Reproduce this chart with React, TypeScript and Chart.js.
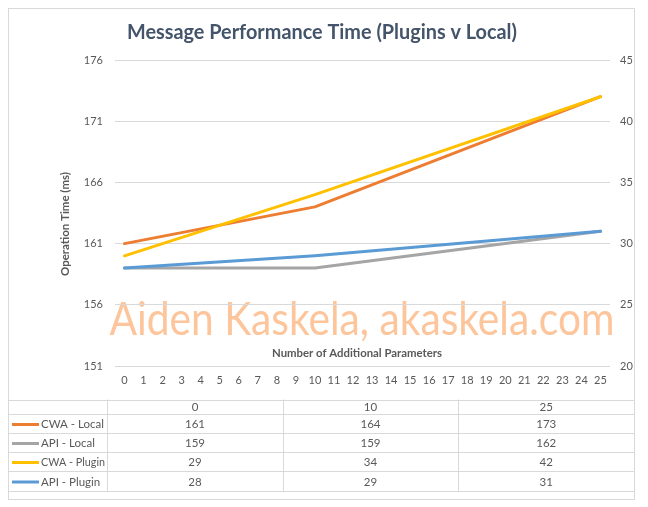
import { useEffect, useRef } from 'react';
import { Chart, registerables, Plugin } from 'chart.js';

Chart.register(...registerables);

// x categories (number of additional parameters)
const xLabels = [
  '0', '1', '2', '3', '4', '5', '6', '7', '8', '9', '10', '11', '12',
  '13', '14', '15', '16', '17', '18', '19', '20', '21', '22', '23', '24', '25',
];
// points actually measured
const measuredAt = ['0', '10', '25'];

const cwaLocal = [161, 164, 173];
const apiLocal = [159, 159, 162];
const cwaPlugin = [29, 34, 42];
const apiPlugin = [28, 29, 31];

const leftTicks = { min: 151, max: 176, step: 5 };
const rightTicks = { min: 20, max: 45, step: 5 };

const seriesNames = ['CWA - Local', 'API - Local', 'CWA - Plugin', 'API - Plugin'];
const seriesColors = ['#ED7D31', '#A5A5A5', '#FFC000', '#5B9BD5'];
const seriesValues = [cwaLocal, apiLocal, cwaPlugin, apiPlugin];
const seriesAxis = ['yLeft', 'yLeft', 'yRight', 'yRight'];

const TITLE = 'Message Performance Time (Plugins v Local)';
const X_TITLE = 'Number of Additional Parameters';
const Y_TITLE = 'Operation Time (ms)';
const WATERMARK = 'Aiden Kaskela, akaskela.com';

const FONT = 'Lato, "Open Sans", sans-serif';
const TEXT = '#595959';
const GRID = '#D9D9D9';

// draws text squeezed to a given width (the original uses narrow Calibri)
function fitText(ctx: CanvasRenderingContext2D, text: string, x: number, y: number, maxW: number) {
  const w = ctx.measureText(text).width;
  const s = w > maxW ? maxW / w : 1;
  ctx.save();
  ctx.translate(x, y);
  ctx.scale(s, 1);
  ctx.fillText(text, 0, 0);
  ctx.restore();
}

const decor: Plugin = {
  id: 'decor',
  beforeDraw(chart) {
    const { ctx, width, height } = chart;
    ctx.save();
    ctx.fillStyle = '#ffffff';
    ctx.fillRect(0, 0, width, height);
    // watermark
    ctx.font = `46px ${FONT}`;
    ctx.fillStyle = '#FDC59B';
    ctx.textAlign = 'center';
    ctx.textBaseline = 'alphabetic';
    fitText(ctx, WATERMARK, 354, 327, 505);
    ctx.restore();
  },
  afterDraw(chart) {
    const { ctx, width, height } = chart;
    ctx.save();

    // title
    ctx.fillStyle = '#44546A';
    ctx.font = `bold 20.5px ${FONT}`;
    ctx.textAlign = 'center';
    ctx.textBaseline = 'alphabetic';
    fitText(ctx, TITLE, 314, 31, 390);

    // axis titles
    ctx.fillStyle = TEXT;
    ctx.font = `bold 12px ${FONT}`;
    ctx.textBaseline = 'middle';
    fitText(ctx, X_TITLE, 349, 345, 170);
    ctx.save();
    ctx.translate(57, 216);
    ctx.rotate(-Math.PI / 2);
    fitText(ctx, Y_TITLE, 0, 0, 104);
    ctx.restore();

    // data table
    const colEdges = [99, 275, 450, width - 0.5];
    const rowEdges = [391.5, 406, 425, 444, 463, 483];
    ctx.strokeStyle = GRID;
    ctx.lineWidth = 1;
    ctx.beginPath();
    rowEdges.forEach((y) => {
      const yy = Math.round(y) + 0.5;
      ctx.moveTo(0, yy);
      ctx.lineTo(width, yy);
    });
    colEdges.slice(0, 3).forEach((x) => {
      const xx = Math.round(x) + 0.5;
      ctx.moveTo(xx, rowEdges[0]);
      ctx.lineTo(xx, rowEdges[rowEdges.length - 1]);
    });
    ctx.stroke();

    ctx.font = `11.5px ${FONT}`;
    ctx.fillStyle = TEXT;
    ctx.textAlign = 'center';
    ctx.textBaseline = 'middle';
    measuredAt.forEach((lbl, c) => {
      const cx = (colEdges[c] + colEdges[c + 1]) / 2;
      ctx.fillText(lbl, cx, (rowEdges[0] + rowEdges[1]) / 2 + 1);
    });
    seriesNames.forEach((name, r) => {
      const cy = (rowEdges[r + 1] + rowEdges[r + 2]) / 2 + 1;
      ctx.strokeStyle = seriesColors[r];
      ctx.lineWidth = 3;
      ctx.beginPath();
      ctx.moveTo(4, cy);
      ctx.lineTo(31, cy);
      ctx.stroke();
      ctx.fillStyle = TEXT;
      ctx.textAlign = 'left';
      fitText(ctx, name, 33, cy, 64);
      ctx.textAlign = 'center';
      seriesValues[r].forEach((v, c) => {
        const cx = (colEdges[c] + colEdges[c + 1]) / 2;
        ctx.fillText(String(v), cx, cy);
      });
    });

    // outer border
    ctx.strokeStyle = GRID;
    ctx.lineWidth = 1;
    ctx.strokeRect(0.5, 0.5, width - 1, height - 1);
    ctx.restore();
  },
};

export default function App() {
  const canvasRef = useRef<HTMLCanvasElement>(null);

  useEffect(() => {
    if (!canvasRef.current) return;

    const datasets = seriesNames.map((name, i) => ({
      label: name,
      data: measuredAt.map((x, j) => ({ x, y: seriesValues[i][j] })),
      borderColor: seriesColors[i],
      backgroundColor: seriesColors[i],
      borderWidth: 3,
      borderCapStyle: 'round' as const,
      borderJoinStyle: 'round' as const,
      pointRadius: 0,
      tension: 0,
      yAxisID: seriesAxis[i],
      order: 4 - i, // later series drawn on top, like Excel
    }));

    const tickFont = { family: FONT, size: 11 };

    const chart = new Chart(canvasRef.current, {
      type: 'line',
      data: { labels: xLabels, datasets },
      plugins: [decor],
      options: {
        animation: false,
        responsive: true,
        maintainAspectRatio: false,
        layout: { padding: { top: 52, left: 0, right: 0, bottom: 0 } },
        plugins: {
          legend: { display: false },
          title: { display: false },
          tooltip: { enabled: false },
        },
        scales: {
          x: {
            type: 'category',
            offset: true,
            grid: { display: false, drawTicks: false },
            border: { display: false },
            ticks: {
              font: tickFont,
              color: TEXT,
              padding: 8,
              maxRotation: 0,
              autoSkip: false,
            },
            afterFit: (scale) => {
              scale.height = 134;
            },
          },
          yLeft: {
            type: 'linear',
            position: 'left',
            min: leftTicks.min,
            max: leftTicks.max,
            grid: { color: GRID, drawTicks: false },
            border: { display: false },
            ticks: { stepSize: leftTicks.step, font: tickFont, color: TEXT, padding: 12 },
            afterFit: (scale) => {
              scale.width = 107;
            },
          },
          yRight: {
            type: 'linear',
            position: 'right',
            min: rightTicks.min,
            max: rightTicks.max,
            grid: { display: false, drawTicks: false },
            border: { display: false },
            ticks: { stepSize: rightTicks.step, font: tickFont, color: TEXT, padding: 10 },
            afterFit: (scale) => {
              scale.width = 25;
            },
          },
        },
      },
    });

    return () => {
      chart.destroy();
    };
  }, []);

  return (
    <div style={{ position: 'relative', width: 627, height: 492 }}>
      <canvas ref={canvasRef} />
    </div>
  );
}
